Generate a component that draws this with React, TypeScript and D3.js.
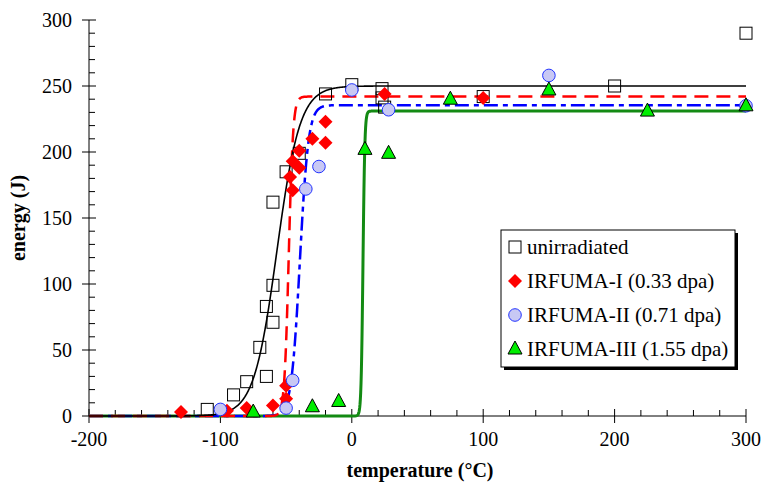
import React from "react";
import * as d3 from "d3";

const W = 761;
const H = 484;

const xTicks = [-200, -100, 0, 100, 200, 300];
const yTicks = [0, 50, 100, 150, 200, 250, 300];

const unirrT = [-110, -90, -80, -65, -70, -65, -60, -60, -60, -50, -40, -20, 0, 23, 23, 25, 100, 200, 300];
const unirrE = [5, 16, 26, 30, 52, 83, 71, 99, 162, 185, 199, 244, 251, 248, 241, 234, 242, 250, 290];

const irf1T = [-130, -95, -80, -60, -50, -50, -45, -47, -45, -40, -40, -30, -20, -20, 25, 100];
const irf1E = [3, 4, 6, 8, 13, 23, 171, 181, 193, 188, 201, 210, 207, 223, 244, 241];

const irf2T = [-100, -50, -45, -35, -25, 0, 28, 150, 300];
const irf2E = [5, 6, 27, 172, 189, 247, 232, 258, 235];

const irf3T = [-75, -30, -10, 10, 28, 75, 150, 225, 300];
const irf3E = [3, 7, 11, 202, 199, 240, 247, 231, 235];

// tanh fit parameters: [lower shelf, upper shelf, T0, C]
const fitUnirr = [0, 250, -57, 17.5];
const fitIrf1 = [0, 242, -48, 3.3];
const fitIrf2 = [0, 235.5, -39.5, 6.5];
const fitIrf3 = [0, 231, 8.5, 1.4];

const legendLabels = ["unirradiated", "IRFUMA-I (0.33 dpa)", "IRFUMA-II (0.71 dpa)", "IRFUMA-III (1.55 dpa)"];

const x = d3.scaleLinear().domain([-200, 300]).range([89, 746]);
const y = d3.scaleLinear().domain([0, 300]).range([416, 20]);

const fitLine = (p: number[]) => {
  const [lo, hi, t0, c] = p;
  const ts = d3.range(-200, 300.001, 0.25);
  const gen = d3
    .line<number>()
    .x((t) => x(t))
    .y((t) => y(lo + ((hi - lo) / 2) * (1 + Math.tanh((t - t0) / c))));
  return gen(ts) || "";
};

const serif = "Liberation Serif, Times New Roman, serif";

const Square = ({ cx, cy }: { cx: number; cy: number }) => (
  <rect x={cx - 6} y={cy - 6} width={12} height={12} fill="none" stroke="#000" strokeWidth={1} />
);
const Diamond = ({ cx, cy }: { cx: number; cy: number }) => (
  <path d={`M${cx},${cy - 7}L${cx + 7},${cy}L${cx},${cy + 7}L${cx - 7},${cy}Z`} fill="#ff0000" />
);
const Circle = ({ cx, cy }: { cx: number; cy: number }) => (
  <circle cx={cx} cy={cy} r={6.3} fill="#c8c8f4" stroke="#2233ff" strokeWidth={1} />
);
const Triangle = ({ cx, cy }: { cx: number; cy: number }) => (
  <path d={`M${cx},${cy - 8}L${cx + 7},${cy + 5}L${cx - 7},${cy + 5}Z`} fill="#00ee00" stroke="#000" strokeWidth={1} />
);

export default function App() {
  const xMinor = d3.range(-200, 301, 20).filter((v) => v % 100 !== 0);
  const yMinor = d3.range(0, 301, 10).filter((v) => v % 50 !== 0);
  const lx = 501, ly = 230, lw = 234, lh = 137;
  const rowY = [247, 281, 315, 349];
  const ts = { fontFamily: serif };
  return (
    <svg width={W} height={H} style={{ position: "absolute", left: 0, top: 0, background: "#fff", fontFamily: serif }}>
      {/* axes */}
      <line x1={x(-200)} x2={x(300)} y1={y(0)} y2={y(0)} stroke="#000" strokeWidth={1} />
      <line x1={x(-200)} x2={x(-200)} y1={y(0)} y2={y(300)} stroke="#000" strokeWidth={1} />
      {xTicks.map((t) => (
        <g key={"xt" + t}>
          <line x1={x(t)} x2={x(t)} y1={y(0) - 7} y2={y(0) + 7} stroke="#000" />
          <text x={x(t)} y={y(0) + 30} textAnchor="middle" fontSize={20} style={ts}>{t}</text>
        </g>
      ))}
      {xMinor.map((t) => (
        <line key={"xm" + t} x1={x(t)} x2={x(t)} y1={y(0) - 6} y2={y(0)} stroke="#000" />
      ))}
      {yTicks.map((t) => (
        <g key={"yt" + t}>
          <line x1={x(-200) - 7} x2={x(-200) + 7} y1={y(t)} y2={y(t)} stroke="#000" />
          <text x={72} y={y(t) + 7} textAnchor="end" fontSize={20} style={ts}>{t}</text>
        </g>
      ))}
      {yMinor.map((t) => (
        <line key={"ym" + t} x1={x(-200)} x2={x(-200) + 6} y1={y(t)} y2={y(t)} stroke="#000" />
      ))}
      <text x={420} y={477} textAnchor="middle" fontSize={20} fontWeight="bold" style={ts}>temperature (°C)</text>
      <text transform="translate(25,218) rotate(-90)" textAnchor="middle" fontSize={20} fontWeight="bold" style={ts}>energy (J)</text>

      {/* fit curves */}
      <path d={fitLine(fitIrf3)} fill="none" stroke="#138a13" strokeWidth={3} />
      <path d={fitLine(fitIrf2)} fill="none" stroke="#0000ff" strokeWidth={2.5} strokeDasharray="14 5 5 5" />
      <path d={fitLine(fitIrf1)} fill="none" stroke="#ff0000" strokeWidth={2.5} strokeDasharray="14 8" />
      <path d={fitLine(fitUnirr)} fill="none" stroke="#000" strokeWidth={1.6} />

      {/* data points */}
      {unirrT.map((t, i) => <Square key={"s" + i} cx={x(t)} cy={y(unirrE[i])} />)}
      {irf1T.map((t, i) => <Diamond key={"d" + i} cx={x(t)} cy={y(irf1E[i])} />)}
      {irf2T.map((t, i) => <Circle key={"c" + i} cx={x(t)} cy={y(irf2E[i])} />)}
      {irf3T.map((t, i) => <Triangle key={"t" + i} cx={x(t)} cy={y(irf3E[i])} />)}

      {/* legend */}
      <rect x={lx + 3} y={ly + 3} width={lw} height={lh} fill="#000" />
      <rect x={lx} y={ly} width={lw} height={lh} fill="#fff" stroke="#000" strokeWidth={1} />
      <Square cx={515} cy={rowY[0]} />
      <Diamond cx={515} cy={rowY[1]} />
      <Circle cx={515} cy={rowY[2]} />
      <Triangle cx={515} cy={rowY[3]} />
      {legendLabels.map((s, i) => (
        <text key={"l" + i} x={527} y={rowY[i] + 7} fontSize={21} style={ts}>{s}</text>
      ))}
    </svg>
  );
}
